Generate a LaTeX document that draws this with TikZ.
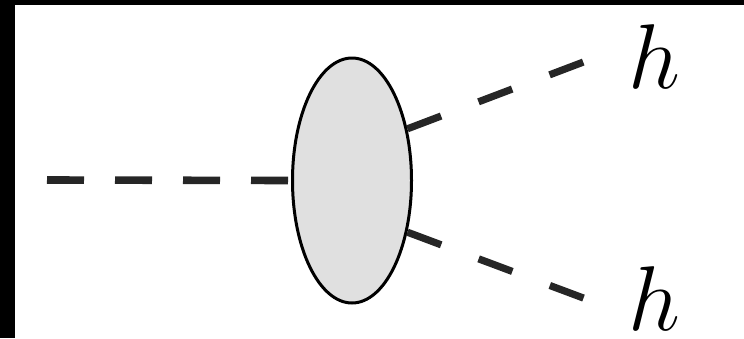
\documentclass[tikz,border=0pt]{standalone}
\usepackage{fix-cm}
\usepackage{tikz}
\usetikzlibrary{shapes.geometric, positioning}

\begin{document}
\begin{tikzpicture}[x=0.5pt, y=-0.5pt,
    every node/.style={font=\fontsize{46}{54}\selectfont},
    scalar/.style={draw=black!85, line width=3.8pt, dash pattern=on 18.5pt off 15.5pt},
    outleg/.style={draw=black!85, line width=3.6pt, dash pattern=on 18pt off 20pt},
    blobstyle/.style={draw, ellipse, line width=1.5pt, fill=black!12, inner sep=0pt, minimum width=59.5pt, minimum height=122.5pt}]
    \useasboundingbox (0,0) rectangle (744,338);
    % Frame edges
    \fill[black] (0,0) rectangle (15,338);
    \fill[black] (0,0) rectangle (744,5);

    % Vertex and external points
    \node (blob) [blobstyle] at (352,180.5) {};
    \coordinate (in) at (47,180);
    \coordinate (t1) at (594,58);
    \coordinate (t2) at (594,302);

    % Labels
    \node (h1) [anchor=base, inner sep=0pt] at (654,88) {$h$};
    \node (h2) [anchor=base, inner sep=0pt] at (654,330) {$h$};

    % Scalar lines
    \draw[scalar] (in) -- (blob.west);
    \draw[outleg] (blob.43) -- (t1);
    \draw[outleg] (blob.-43) -- (t2);
\end{tikzpicture}
\end{document}
